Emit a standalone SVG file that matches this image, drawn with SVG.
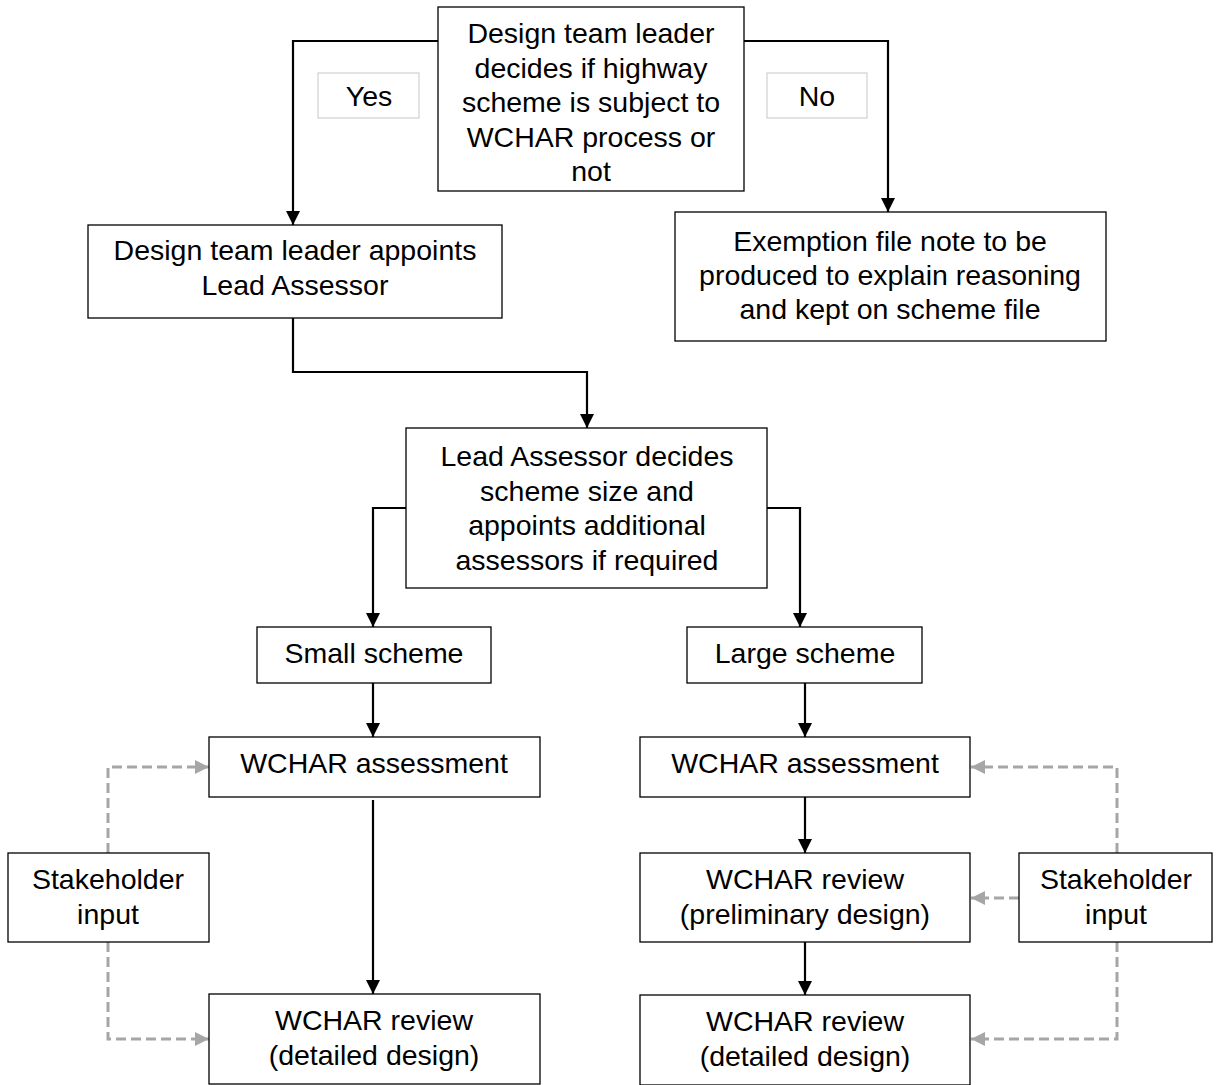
<svg xmlns="http://www.w3.org/2000/svg" width="1221" height="1085" viewBox="0 0 1221 1085">
<style>
.box{fill:#fff;stroke:#000;stroke-width:1.3}
.lbl{fill:#fff;stroke:#c8c8c8;stroke-width:1}
text{font-family:"Liberation Sans",Arial,sans-serif;font-size:28.5px;fill:#000;text-anchor:middle}
.c{fill:none;stroke:#000;stroke-width:2.2}
.d{fill:none;stroke:#a6a6a6;stroke-width:3;stroke-dasharray:10 5}
</style>
<defs>
<marker id="ab" markerUnits="userSpaceOnUse" markerWidth="14" markerHeight="14" viewBox="0 0 10 10" refX="10" refY="5" orient="auto"><path d="M0,0 L10,5 L0,10 z" fill="#000"/></marker>
<marker id="ag" markerUnits="userSpaceOnUse" markerWidth="14" markerHeight="14" viewBox="0 0 10 10" refX="10" refY="5" orient="auto"><path d="M0,0 L10,5 L0,10 z" fill="#a6a6a6"/></marker>
</defs>
<rect width="1221" height="1085" fill="#fff"/>
<g id="connectors">
<polyline class="c" points="438,41 293,41 293,225" marker-end="url(#ab)"/>
<polyline class="c" points="744,41 888,41 888,212" marker-end="url(#ab)"/>
<polyline class="c" points="293,318 293,372 587,372 587,428" marker-end="url(#ab)"/>
<polyline class="c" points="406,508 373,508 373,627" marker-end="url(#ab)"/>
<polyline class="c" points="767,508 800,508 800,627" marker-end="url(#ab)"/>
<line class="c" x1="373" y1="683" x2="373" y2="737" marker-end="url(#ab)"/>
<line class="c" x1="805" y1="683" x2="805" y2="737" marker-end="url(#ab)"/>
<line class="c" x1="373" y1="800" x2="373" y2="994" marker-end="url(#ab)"/>
<line class="c" x1="805" y1="797" x2="805" y2="853" marker-end="url(#ab)"/>
<line class="c" x1="805" y1="942" x2="805" y2="995" marker-end="url(#ab)"/>
<polyline class="d" points="108,853 108,767 209,767" marker-end="url(#ag)"/>
<polyline class="d" points="108,942 108,1039 209,1039" marker-end="url(#ag)"/>
<polyline class="d" points="1117,853 1117,767 971,767" marker-end="url(#ag)"/>
<line class="d" x1="1019" y1="898" x2="971" y2="898" marker-end="url(#ag)"/>
<polyline class="d" points="1117,942 1117,1039 971,1039" marker-end="url(#ag)"/>
</g>
<g id="label-yes"><rect class="lbl" x="318" y="73" width="101" height="45"/><text x="369" y="106">Yes</text></g>
<g id="label-no"><rect class="lbl" x="767" y="73" width="100" height="45"/><text x="817" y="106">No</text></g>
<g id="decide"><rect class="box" x="438" y="7" width="306" height="184"/>
<text x="591" y="43">Design team leader</text><text x="591" y="78">decides if highway</text><text x="591" y="112">scheme is subject to</text><text x="591" y="147">WCHAR process or</text><text x="591" y="181">not</text></g>
<g id="appoint"><rect class="box" x="88" y="225" width="414" height="93"/>
<text x="295" y="260">Design team leader appoints</text><text x="295" y="295">Lead Assessor</text></g>
<g id="exemption"><rect class="box" x="675" y="212" width="431" height="129"/>
<text x="890" y="251">Exemption file note to be</text><text x="890" y="285">produced to explain reasoning</text><text x="890" y="319">and kept on scheme file</text></g>
<g id="lead"><rect class="box" x="406" y="428" width="361" height="160"/>
<text x="587" y="466">Lead Assessor decides</text><text x="587" y="501">scheme size and</text><text x="587" y="535">appoints additional</text><text x="587" y="570">assessors if required</text></g>
<g id="small"><rect class="box" x="257" y="627" width="234" height="56"/><text x="374" y="663">Small scheme</text></g>
<g id="large"><rect class="box" x="687" y="627" width="235" height="56"/><text x="805" y="663">Large scheme</text></g>
<g id="assess-left"><rect class="box" x="209" y="737" width="331" height="60"/><text x="374" y="773">WCHAR assessment</text></g>
<g id="assess-right"><rect class="box" x="640" y="737" width="330" height="60"/><text x="805" y="773">WCHAR assessment</text></g>
<g id="review-left"><rect class="box" x="209" y="994" width="331" height="90"/><text x="374" y="1030">WCHAR review</text><text x="374" y="1065">(detailed design)</text></g>
<g id="prelim-right"><rect class="box" x="640" y="853" width="330" height="89"/><text x="805" y="889">WCHAR review</text><text x="805" y="924">(preliminary design)</text></g>
<g id="review-right"><rect class="box" x="640" y="995" width="330" height="90"/><text x="805" y="1031">WCHAR review</text><text x="805" y="1066">(detailed design)</text></g>
<g id="stake-left"><rect class="box" x="8" y="853" width="201" height="89"/><text x="108" y="889">Stakeholder</text><text x="108" y="924">input</text></g>
<g id="stake-right"><rect class="box" x="1019" y="853" width="193" height="89"/><text x="1116" y="889">Stakeholder</text><text x="1116" y="924">input</text></g>
</svg>
